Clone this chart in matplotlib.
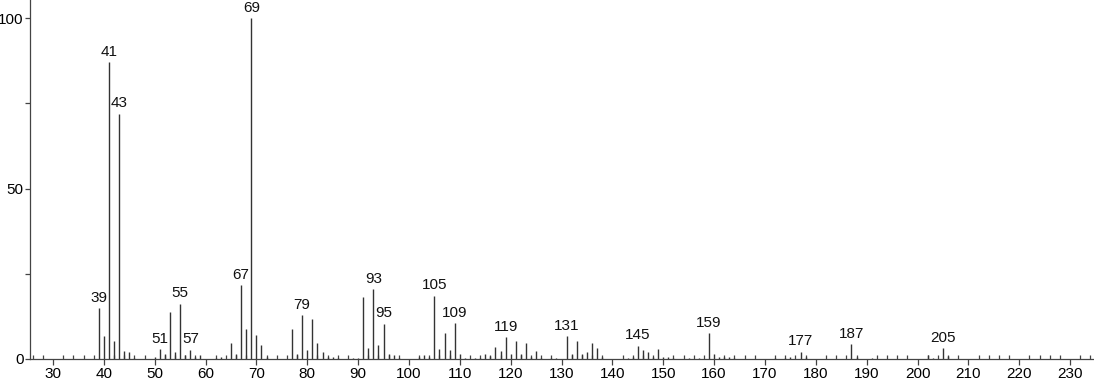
import matplotlib
matplotlib.use("Agg")
import matplotlib.pyplot as plt
from matplotlib.ticker import MultipleLocator

plt.rcParams['font.family'] = ['Liberation Sans', 'DejaVu Sans']

mz = [39, 40, 41, 42, 43, 44, 45, 46, 50, 51, 52, 53, 54, 55, 56, 57, 58, 59,
      62, 63, 65, 66, 67, 68, 69, 70, 71, 72,
      77, 78, 79, 80, 81, 82, 83, 84, 85, 86, 89, 90,
      91, 92, 93, 94, 95, 96, 97, 98, 102, 103, 104, 105, 106, 107, 108, 109, 110, 111, 113,
      114, 115, 116, 117, 118, 119, 120, 121, 122, 123, 124, 125, 126, 128, 129,
      131, 132, 133, 134, 135, 136, 137, 138, 143, 144, 145, 146, 147, 148, 149, 150, 151, 152,
      155, 157, 159, 160, 161, 162, 163, 164, 172, 174, 175, 177, 178,
      187, 188, 191, 202, 203, 205, 206]
intensity = [14.9, 6.7, 87.0, 5.3, 72.0, 2.4, 2.1, 0.4, 0.5, 2.8, 1.4, 13.9, 2.1, 16.2, 1.1, 2.7, 0.7, 1.1,
             0.3, 0.5, 4.7, 1.6, 21.6, 8.8, 100.0, 6.9, 4.1, 0.5,
             8.8, 1.6, 12.8, 2.6, 11.8, 4.7, 2.1, 0.5, 0.5, 0.3, 0.3, 0.4,
             18.3, 3.2, 20.5, 4.1, 10.3, 1.6, 1.1, 0.3, 0.5, 1.1, 0.6, 18.5, 2.9, 7.5, 2.6, 10.5, 1.5, 0.4, 0.3,
             0.3, 1.5, 0.9, 3.4, 2.3, 6.4, 1.5, 5.2, 1.5, 4.6, 0.6, 2.3, 0.3, 0.4, 0.3,
             6.7, 1.6, 5.2, 1.4, 2.0, 4.7, 3.1, 0.5, 0.3, 0.5, 3.9, 2.6, 2.0, 0.6, 2.9, 0.6, 0.5, 0.3,
             0.3, 0.3, 7.5, 1.4, 0.5, 0.6, 0.5, 0.3, 0.3, 0.3, 0.5, 2.1, 0.5,
             4.3, 0.6, 0.4, 1.1, 0.3, 3.2, 0.8]
labeled = [39, 41, 43, 51, 55, 57, 67, 69, 79, 93, 95, 105, 109, 119, 131, 145, 159, 177, 187, 205]

fig = plt.figure(figsize=(10.94, 3.84), dpi=100)
ax = fig.add_axes([30 / 1094, 25 / 384, 1 - 30 / 1094, 1 - 25 / 384])

ax.vlines(mz, 0, intensity, colors='#333333', linewidth=1.0)
for m, v in zip(mz, intensity):
    if m in labeled:
        ax.annotate(str(m), (m, v), xytext=(0, 2.5), textcoords='offset points',
                    ha='center', va='bottom', fontsize=11, color='#111111')

ax.set_xlim(25.48, 234.7)
ax.set_ylim(0, 105.3)
for s in ['top', 'right']:
    ax.spines[s].set_visible(False)
for s in ['left', 'bottom']:
    ax.spines[s].set_color('#444444')
    ax.spines[s].set_linewidth(0.9)

ax.xaxis.set_major_locator(MultipleLocator(10))
ax.xaxis.set_minor_locator(MultipleLocator(2))
ax.yaxis.set_major_locator(MultipleLocator(50))
ax.yaxis.set_minor_locator(MultipleLocator(25))
ax.tick_params(axis='x', which='major', direction='out', length=4.5, width=0.9,
               color='#444444', labelsize=11, pad=1.5)
ax.tick_params(axis='x', which='minor', direction='in', length=3, width=0.9, color='#444444')
ax.tick_params(axis='y', which='major', direction='out', length=3.5, width=0.9,
               color='#444444', labelsize=11, pad=1)
ax.tick_params(axis='y', which='minor', direction='out', length=3.5, width=0.9, color='#444444')

fig.savefig('out.png', dpi=100)
